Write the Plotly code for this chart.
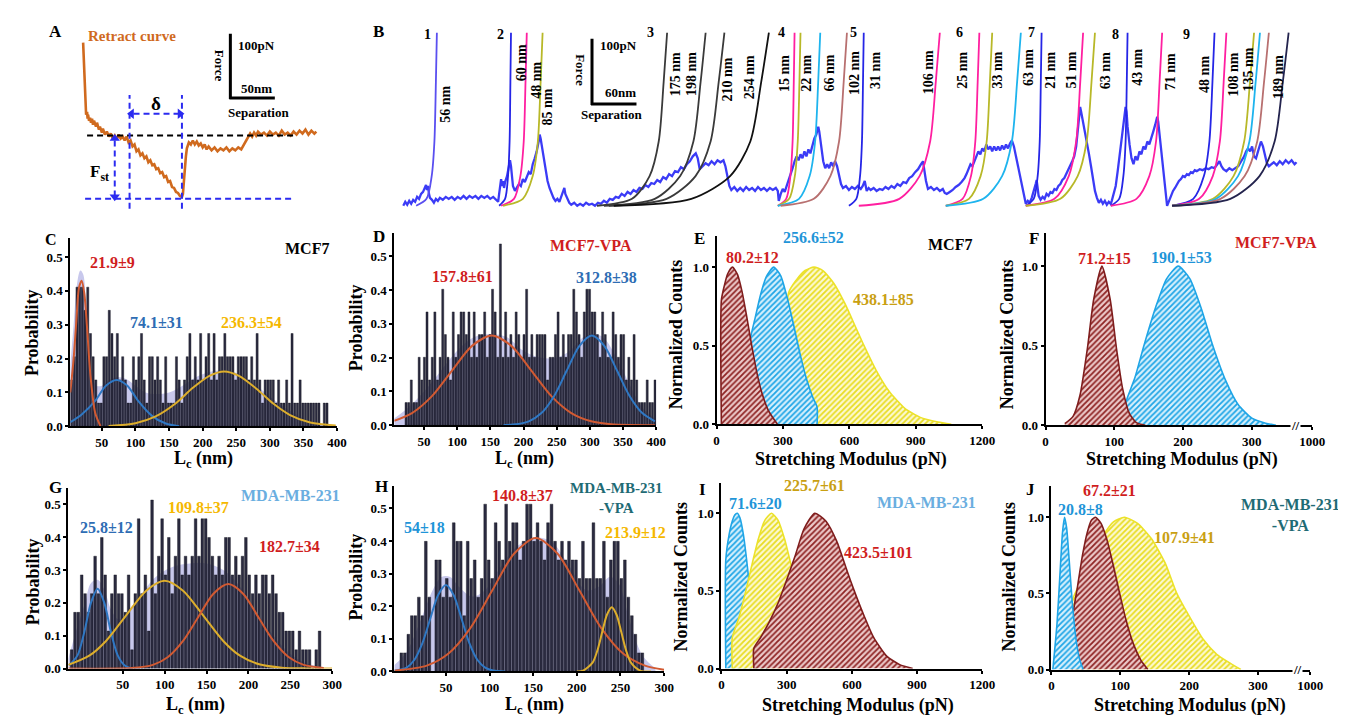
import plotly.graph_objects as go

W, H = 1346, 715
FONT = "Liberation Serif"


def fx(p):
    return p / W


def fy(p):
    return 1 - p / H


# ======================= DATA =======================
# ---- Panel A : retract curve (separation / force in display units; bars = 50 nm, 100 pN)
A_SEP = [73, 73.5, 74, 74.5, 75, 75.5, 76, 77, 77.5, 78,
         79, 80, 81, 82, 83, 84, 86, 87, 89, 90,
         92, 93, 95, 97, 99, 101, 103, 105, 107, 109,
         111, 113, 115, 117, 119, 121, 123, 125, 127, 129,
         131, 133, 135, 137, 139, 141, 143, 145, 147, 149,
         151, 153, 155, 157, 159, 161, 163, 165, 167, 169,
         171, 173, 174, 175, 176, 177, 178, 180, 182, 184,
         186, 188, 190, 192, 194, 196, 198, 200, 203, 206,
         209, 212, 215, 218, 221, 224, 227, 230, 233, 236,
         238, 240, 242, 244, 246, 248, 250, 253, 256, 259,
         262, 265, 268, 271, 274, 277, 280, 283, 286, 289,
         292, 295, 298, 301, 304, 307, 309]
A_FORCE = [165, 150, 140, 125, 112, 100, 92, 95, 88, 92,
           86, 89, 84, 88, 82, 86, 80, 84, 77, 80,
           74, 78, 72, 75, 70, 73, 68, 71, 67, 72,
           68, 70, 66, 70, 64, 66, 60, 62, 55, 57,
           51, 53, 48, 50, 44, 46, 41, 42, 37, 38,
           33, 34, 29, 30, 24, 25, 19, 18, 14, 13,
           10, 9, 12, 25, 40, 50, 58, 64, 62, 66,
           62, 65, 61, 63, 59, 62, 57, 60, 56, 59,
           55, 58, 56, 59, 55, 58, 56, 59, 57, 62,
           66, 70, 73, 70, 74, 71, 75, 72, 74, 71,
           75, 72, 74, 71, 76, 72, 74, 71, 75, 72,
           76, 73, 77, 72, 76, 73, 75]
A_BASELINE = 71
A_MIN_FORCE = 7
A_DELTA = [120, 173]

# ---- Panel B : force traces (display units) and WLC fits
B_SEP = (
    [397, 399, 401, 403, 405, 407, 409, 411, 413, 415, 417, 419, 420, 421, 422, 423, 424, 426, 428, 430, 432, 434,
     437, 440, 443, 446, 449, 452, 455, 458, 461, 464, 467, 470, 473, 476, 479, 482, 485, 488, 491, 493]
    + [494, 495, 496, 497, 498, 499, 500, 502, 503, 504, 505, 506, 507, 508, 510, 512, 514, 516, 518, 520, 522, 524,
       526, 528, 530, 532, 534, 535, 536, 537, 539, 541, 543, 545, 547, 549, 551, 553, 555, 557, 559, 560, 561, 563, 565]
    + [567, 570, 573, 576, 579, 582, 585, 588, 591, 594, 597, 600, 603, 606, 609, 612, 615, 618, 621, 624, 627, 630,
       633, 636, 639, 642, 645, 648, 651, 654, 657, 660, 663, 666, 669, 672, 675, 678, 681, 684, 687, 690, 693, 695,
       697, 700, 703, 706, 709, 712, 715, 718, 721, 723, 725, 727, 729, 732, 735, 738, 741, 744, 747, 750, 753, 756,
       759, 762, 765, 768, 771, 774, 776]
    + [777, 779, 781, 783, 785, 787, 789, 791, 793, 795, 797, 799, 801, 803, 805, 807, 809, 811, 813, 815, 817, 818,
       820, 822, 824, 826, 828, 830, 832, 834, 836, 838, 840, 842, 845, 848, 851, 854, 857, 860]
    + [862, 864, 866, 868, 870, 873, 876, 879, 882, 885, 888, 891, 894, 897, 900, 903, 906, 909, 912, 915, 918, 921,
       923, 924, 926, 928, 931, 934, 937, 940, 943, 945]
    + [947, 950, 953, 956, 959, 962, 965, 967, 969, 971, 973, 975, 977, 979, 981, 983, 985, 987, 989, 991, 993, 995,
       997, 999, 1001, 1003, 1005, 1007, 1009, 1011, 1013, 1015, 1017, 1019, 1021, 1023, 1025]
    + [1027, 1029, 1031, 1033, 1035, 1037, 1038, 1039, 1040, 1042, 1044, 1046, 1048, 1050, 1052, 1054, 1056, 1058,
       1060, 1062, 1064, 1066, 1068, 1070, 1072, 1074, 1076, 1078, 1080, 1081, 1082, 1083, 1085, 1087, 1089, 1091,
       1093, 1095, 1097, 1099, 1101, 1103, 1105, 1107, 1109, 1111, 1113]
    + [1114, 1116, 1118, 1120, 1122, 1124, 1126, 1127, 1128, 1129, 1130, 1132, 1134, 1136, 1138, 1140, 1142, 1144,
       1146, 1148, 1150, 1152, 1154, 1156, 1158, 1160, 1161, 1162, 1164, 1166, 1168]
    + [1170, 1172, 1174, 1176, 1178, 1180, 1182, 1184, 1186, 1188, 1190, 1192, 1194, 1196, 1198, 1200, 1203, 1206,
       1209, 1212, 1215, 1218, 1221, 1223, 1225, 1227, 1230, 1233, 1236, 1239, 1242, 1245, 1248, 1250, 1252, 1254,
       1256, 1258, 1260, 1262, 1264, 1265, 1267, 1269, 1271, 1273, 1275, 1278, 1281, 1284, 1287, 1290, 1293, 1296,
       1299, 1301]
)
B_FORCE = (
    [0, 4, 1, 5, 2, 6, 4, 9, 7, 12, 14, 18, 21, 16, 20, 12, 8, 6, 3, 7, 5, 8,
     6, 9, 7, 9, 6, 9, 7, 10, 7, 10, 8, 10, 7, 10, 8, 10, 7, 9, 6, 4]
    + [12, 22, 27, 20, 25, 18, 24, 30, 36, 42, 46, 40, 30, 20, 15, 18, 22, 20, 27, 24, 30, 34,
       32, 42, 48, 55, 65, 72, 68, 62, 48, 35, 25, 18, 12, 8, 5, 7, 4, 9, 16, 18, 12, 8, 3]
    + [1, 3, 0, 2, 0, 3, 1, 2, 0, 3, 2, 5, 3, 7, 6, 9, 8, 12, 10, 14, 12, 16,
       14, 18, 17, 21, 19, 23, 22, 26, 24, 29, 27, 32, 30, 35, 34, 39, 37, 42, 45, 50, 53, 48,
       37, 40, 43, 41, 45, 42, 46, 44, 46, 40, 30, 20, 16, 19, 15, 18, 15, 19, 16, 18, 15, 19,
       16, 18, 15, 18, 16, 18, 15]
    + [5, 12, 17, 14, 20, 25, 30, 38, 45, 50, 46, 52, 48, 55, 50, 57, 53, 62, 68, 72, 80, 75,
       62, 45, 38, 42, 38, 44, 40, 45, 40, 30, 22, 18, 20, 16, 19, 17, 20, 17]
    + [20, 25, 15, 18, 16, 18, 15, 17, 16, 19, 17, 20, 18, 22, 20, 24, 23, 28, 30, 34, 37, 42,
       45, 38, 25, 17, 19, 16, 18, 15, 17, 13]
    + [12, 14, 16, 19, 21, 24, 28, 32, 37, 42, 40, 46, 50, 55, 52, 58, 55, 62, 57, 60, 55, 60,
       56, 60, 56, 61, 57, 62, 58, 63, 66, 60, 50, 40, 30, 22, 12]
    + [2, 5, 3, 8, 14, 22, 26, 18, 10, 6, 9, 7, 12, 10, 14, 13, 17, 16,
       20, 22, 26, 28, 32, 36, 40, 45, 50, 60, 80, 95, 100, 95, 85, 72, 62, 52,
       40, 28, 15, 8, 3, 6, 2, 5, 1, 4, 2]
    + [5, 12, 20, 35, 50, 65, 80, 92, 100, 95, 80, 62, 48, 42, 50, 46, 55, 52,
       60, 57, 65, 62, 70, 75, 82, 90, 85, 75, 55, 35, 15]
    + [0, 5, 10, 15, 18, 22, 25, 27, 30, 29, 32, 31, 34, 33, 36, 35, 37, 36,
       38, 37, 39, 38, 42, 45, 40, 37, 35, 38, 36, 38, 40, 45, 50, 55, 58, 55,
       60, 50, 48, 55, 62, 65, 60, 52, 43, 40, 42, 44, 41, 45, 42, 46, 43, 46,
       42, 44]
)
# WLC fits: separation reached at each force level
WLC_FORCE = [0, 7, 30, 65, 125, 175]
WLC_SEP = [
    [410, 420.5, 425.75, 428.5, 430, 431],
    [494, 500, 503, 504.6, 505.4, 506],
    [496, 509, 515.5, 518.9, 520.7, 522],
    [498, 518, 528, 533.2, 536, 538],
    [593, 628.5, 646.25, 655.5, 660.5, 664],
    [600, 651.5, 677.25, 690.6, 697.9, 703],
    [605, 663.5, 692.75, 708, 716.2, 722],
    [610, 688.5, 727.75, 748.2, 759.2, 767],
    [776, 784.5, 788.75, 791, 792.2, 793],
    [776, 787.5, 793.25, 796.2, 797.9, 799],
    [776, 797.5, 808.25, 813.8, 816.9, 819],
    [779, 812.5, 829.25, 838, 842.7, 846],
    [848, 855.5, 859.25, 861.2, 862.25, 863],
    [858, 899, 919.5, 930.2, 935.9, 940],
    [946, 963, 971.5, 975.9, 978.3, 980],
    [946, 969.5, 981.25, 987.4, 990.65, 993],
    [946, 984, 1003, 1012.9, 1018.2, 1022],
    [1027, 1035, 1039, 1041.1, 1042.2, 1043],
    [1027, 1056, 1070.5, 1078, 1082.1, 1085],
    [1027, 1062, 1079.5, 1088.6, 1093.5, 1097],
    [1113, 1121.5, 1125.75, 1128, 1129.2, 1130],
    [1113, 1139, 1152, 1158.8, 1162.4, 1165],
    [1175, 1196.5, 1207.25, 1212.8, 1215.9, 1218],
    [1175, 1202.5, 1216.25, 1223.4, 1227.25, 1230],
    [1175, 1216.5, 1237.25, 1248, 1253.9, 1258],
    [1175, 1219.5, 1241.75, 1253.3, 1259.6, 1264],
    [1175, 1224, 1248.5, 1261.2, 1268.1, 1273],
    [1175, 1234, 1263.5, 1278.8, 1287.1, 1293],
]
WLC_KIND = ["v", "b", "m", "o", "k1", "k1", "k1", "k2", "m", "o", "c", "r", "b", "m", "m", "o", "c",
            "b", "m", "o", "b", "m", "b", "m", "o", "c", "r", "n"]
B_SEGMENTS = ["1", "2", "3", "4", "5", "6", "7", "8", "9"]
B_LC_TEXT = ["56 nm", "60 nm", "48 nm", "85 nm", "175 nm", "198 nm", "210 nm", "254 nm",
             "15 nm", "22 nm", "66 nm", "102 nm", "31 nm", "106 nm", "25 nm", "33 nm", "63 nm",
             "21 nm", "51 nm", "63 nm", "43 nm", "71 nm", "48 nm", "108 nm", "135 nm", "189 nm"]

# ---- Histograms (counts per bin, probability = count * unit)
C_BIN_START, C_BIN_WIDTH, C_UNIT = 3, 4, 0.0685
C_COUNTS = [2, 3, 6, 6, 6, 5, 6, 4, 3, 2, 1, 1, 3, 3, 5, 4, 3, 4, 2, 3, 2, 1, 1, 3, 2, 3, 4, 2,
            1, 3, 3, 2, 3, 2, 1, 3, 1, 1, 1, 3, 2, 1, 2, 3, 4, 2, 3, 2, 4, 2, 3, 4, 2, 4, 2, 3,
            3, 4, 3, 3, 3, 2, 3, 3, 3, 3, 2, 3, 2, 4, 2, 1, 2, 2, 2, 2, 1, 2, 1, 1, 2, 1, 4, 1,
            1, 2, 1, 1, 1, 1, 1, 1, 1, 0, 1, 1]
D_BIN_START, D_BIN_WIDTH, D_UNIT = 21, 3.95, 0.067
D_COUNTS = [1, 1, 2, 1, 1, 3, 2, 3, 5, 2, 3, 5, 2, 3, 6, 4, 3, 2, 5, 3,
            4, 5, 5, 4, 5, 3, 5, 3, 4, 4, 5, 3, 4, 6, 5, 3, 8, 3, 5, 3,
            4, 3, 5, 4, 3, 4, 6, 3, 4, 3, 4, 4, 4, 4, 2, 3, 3, 4, 5, 3,
            4, 3, 4, 4, 6, 5, 4, 3, 5, 6, 6, 5, 5, 4, 3, 5, 4, 3, 3, 5,
            4, 3, 4, 4, 2, 3, 2, 4, 2, 1, 1, 1, 2, 1, 1, 2]
G_BIN_START, G_BIN_WIDTH, G_UNIT = -13, 4, 0.057
G_COUNTS = [1, 3, 3, 5, 4, 3, 4, 6, 4, 7, 5, 2, 4, 5, 4, 4, 3, 5, 1, 4,
            8, 4, 5, 2, 9, 4, 6, 8, 5, 7, 4, 6, 8, 5, 6, 5, 6, 8, 6, 8,
            8, 7, 6, 5, 6, 5, 7, 7, 5, 6, 5, 6, 7, 5, 4, 5, 4, 5, 5, 4,
            5, 4, 3, 3, 2, 2, 2, 1, 2, 1, 1, 1, 0, 1, 2]
H_BIN_START, H_BIN_WIDTH, H_UNIT = -3, 4, 0.057
H_COUNTS = [1, 1, 2, 3, 3, 4, 3, 7, 4, 0, 6, 6, 4, 5, 4, 8, 7, 7, 3, 7,
            5, 6, 4, 5, 9, 6, 5, 8, 7, 6, 9, 7, 8, 8, 6, 7, 9, 9, 7, 8,
            7, 6, 8, 9, 7, 6, 7, 6, 7, 6, 6, 5, 7, 5, 5, 8, 5, 5, 7, 4,
            6, 7, 7, 5, 6, 4, 3, 2, 1, 1]

# Gaussian fit curves and cumulative envelopes
C_ENV_X = [3, 8, 13, 18, 22, 26, 30, 36, 42, 50, 60, 72, 85, 100, 115, 130, 150, 170, 190, 210, 232, 254, 280, 305, 330, 360, 398]
C_ENV_Y = [0.18, 0.3, 0.42, 0.46, 0.45, 0.38, 0.26, 0.15, 0.12, 0.12, 0.135, 0.145, 0.14, 0.12, 0.1, 0.095, 0.1, 0.12,
           0.145, 0.16, 0.165, 0.155, 0.12, 0.08, 0.045, 0.015, 0.003]
C_FIT1_X = [3, 8, 12, 16, 20, 24, 28, 33, 40, 48]
C_FIT1_Y = [0.10, 0.2, 0.31, 0.41, 0.43, 0.39, 0.29, 0.15, 0.04, 0.0]
C_FIT2_X = [3, 20, 40, 56, 72, 88, 104, 125, 145, 165]
C_FIT2_Y = [0.012, 0.035, 0.075, 0.12, 0.137, 0.12, 0.075, 0.03, 0.008, 0.0]
C_FIT3_X = [60, 100, 130, 160, 185, 210, 232, 254, 280, 305, 330, 360, 398]
C_FIT3_Y = [0.001, 0.009, 0.029, 0.068, 0.113, 0.149, 0.162, 0.149, 0.111, 0.067, 0.033, 0.011, 0.002]

D_ENV_X = [5, 25, 50, 75, 100, 125, 150, 175, 200, 225, 250, 270, 290, 305, 320, 340, 360, 380, 398]
D_ENV_Y = [0.02, 0.05, 0.1, 0.16, 0.22, 0.26, 0.27, 0.26, 0.22, 0.2, 0.2, 0.22, 0.26, 0.27, 0.26, 0.2, 0.12, 0.05, 0.02]
D_FIT1_X = [5, 32, 62, 92, 122, 152, 182, 212, 242, 272, 302, 332, 362, 398]
D_FIT1_Y = [0.013, 0.036, 0.086, 0.161, 0.234, 0.265, 0.234, 0.161, 0.086, 0.036, 0.0117, 0.003, 0.0006, 0.0]
D_FIT2_X = [170, 189, 208, 227, 246, 265, 284, 303, 322, 341, 360, 379, 398]
D_FIT2_Y = [0.0006, 0.003, 0.0117, 0.036, 0.086, 0.161, 0.234, 0.265, 0.234, 0.161, 0.086, 0.036, 0.0117]

G_ENV_X = [-15, -5, 5, 12, 20, 28, 36, 45, 55, 70, 90, 110, 130, 150, 170, 190, 210, 230, 250, 270, 290]
G_ENV_Y = [0.03, 0.12, 0.2, 0.26, 0.27, 0.24, 0.18, 0.15, 0.17, 0.22, 0.28, 0.31, 0.32, 0.32, 0.3, 0.25, 0.17, 0.1,
           0.045, 0.015, 0.003]
G_FIT1_X = [-14, -4, 4, 12, 20, 28, 36, 44, 52, 60]
G_FIT1_Y = [0.01, 0.04, 0.11, 0.2, 0.243, 0.2, 0.11, 0.04, 0.01, 0.0]
G_FIT2_X = [-15, 10, 30, 55, 78, 100, 122, 145, 170, 190, 214, 240, 270, 300]
G_FIT2_Y = [0.011, 0.039, 0.084, 0.165, 0.237, 0.267, 0.237, 0.165, 0.084, 0.039, 0.012, 0.0027, 0.0003, 0.0]
G_FIT3_X = [-15, 60, 86, 104, 122, 140, 158, 176, 194, 212, 230, 248, 266, 290]
G_FIT3_Y = [0.0, 0.0015, 0.011, 0.035, 0.084, 0.156, 0.227, 0.257, 0.227, 0.156, 0.084, 0.035, 0.011, 0.0017]

H_ENV_X = [-9, 5, 20, 35, 45, 55, 65, 80, 95, 110, 130, 150, 170, 190, 210, 225, 238, 248, 260, 275, 290]
H_ENV_Y = [0.02, 0.06, 0.15, 0.25, 0.29, 0.29, 0.26, 0.23, 0.25, 0.31, 0.38, 0.41, 0.4, 0.33, 0.25, 0.26, 0.29, 0.27,
           0.16, 0.05, 0.01]
H_FIT1_X = [-9, 5, 14, 23, 32, 41, 50, 59, 68, 77, 86, 95, 104, 118]
H_FIT1_Y = [0.002, 0.012, 0.036, 0.086, 0.161, 0.234, 0.265, 0.234, 0.161, 0.086, 0.036, 0.012, 0.003, 0.0]
H_FIT2_X = [-9, 28, 53, 78, 103, 128, 153, 178, 203, 228, 253, 278, 300]
H_FIT2_Y = [0.0026, 0.018, 0.055, 0.133, 0.248, 0.361, 0.409, 0.361, 0.248, 0.133, 0.055, 0.018, 0.0054]
H_FIT3_X = [200, 207, 218, 223.5, 229, 234.5, 240, 245.5, 251, 256.5, 262, 273, 285]
H_FIT3_Y = [0.0003, 0.0022, 0.027, 0.064, 0.12, 0.174, 0.197, 0.174, 0.12, 0.064, 0.027, 0.002, 0.0]

# ---- Stretching-modulus distributions (normalized counts)
E_RED_X = [22, 22, 35, 50, 72, 95, 115, 135, 159, 185, 210, 235, 275]
E_RED_Y = [0, 0.79, 0.88, 0.956, 1.0, 0.952, 0.845, 0.696, 0.5, 0.31, 0.176, 0.085, 0.0]
E_BLUE_X = [150, 150, 175, 200, 225, 258, 290, 320, 350, 380, 410, 435, 454, 454]
E_BLUE_Y = [0, 0.52, 0.68, 0.83, 0.94, 1.0, 0.944, 0.8, 0.62, 0.43, 0.27, 0.17, 0.11, 0.0]
E_YEL_X = [325, 325, 360, 400, 440, 480, 530, 580, 630, 666, 720, 780, 850, 920, 1000, 1060]
E_YEL_Y = [0, 0.835, 0.917, 0.978, 1.0, 0.978, 0.896, 0.767, 0.612, 0.5, 0.345, 0.208, 0.102, 0.044, 0.014, 0.0]

F_RED_X = [28, 40, 50, 61, 70, 82, 94, 103, 112, 122, 132, 145]
F_RED_Y = [0.01, 0.056, 0.187, 0.487, 0.79, 1.0, 0.79, 0.487, 0.232, 0.073, 0.017, 0.0]
F_BLUE_X = [115, 115, 130, 143, 160, 176, 193, 210, 226, 244, 262, 280, 300, 320, 335]
F_BLUE_Y = [0, 0.12, 0.3, 0.5, 0.74, 0.92, 1.0, 0.92, 0.74, 0.49, 0.28, 0.13, 0.045, 0.013, 0.0]

I_BLUE_X = [20, 20, 35, 50, 62, 73, 85, 100, 115, 129, 145, 165, 190, 210]
I_BLUE_Y = [0, 0.7, 0.86, 0.95, 0.99, 1.0, 0.97, 0.87, 0.71, 0.53, 0.35, 0.18, 0.06, 0.0]
I_YEL_X = [50, 50, 80, 110, 140, 170, 200, 230, 260, 290, 320, 350, 380, 420, 470, 520]
I_YEL_Y = [0, 0.2, 0.325, 0.487, 0.667, 0.835, 0.956, 1.0, 0.956, 0.835, 0.667, 0.487, 0.325, 0.164, 0.056, 0.0]
I_RED_X = [149, 149, 180, 220, 260, 300, 340, 380, 429, 480, 530, 580, 611, 650, 700, 760, 820, 880]
I_RED_Y = [0, 0.13, 0.2, 0.3, 0.42, 0.57, 0.73, 0.9, 1.0, 0.95, 0.82, 0.62, 0.5, 0.36, 0.2, 0.08, 0.025, 0.0]

J_BLUE_X = [2, 8, 12, 16, 19, 22, 26, 30, 35, 40, 46]
J_BLUE_Y = [0.0, 0.3, 0.6, 0.9, 1.0, 0.93, 0.7, 0.45, 0.22, 0.08, 0.0]
J_RED_X = [30, 30, 38, 45, 52, 58, 64, 72, 80, 90, 99, 108, 118, 130, 140]
J_RED_Y = [0, 0.32, 0.55, 0.75, 0.9, 0.98, 1.0, 0.96, 0.86, 0.68, 0.5, 0.33, 0.18, 0.06, 0.0]
J_YEL_X = [30, 30, 45, 60, 75, 90, 106, 125, 145, 165, 182, 200, 220, 240, 260, 275]
J_YEL_Y = [0, 0.45, 0.6, 0.75, 0.88, 0.97, 1.0, 0.96, 0.86, 0.7, 0.5, 0.35, 0.2, 0.1, 0.04, 0.0]

# Tick labels
TICKS_LC400 = [50, 100, 150, 200, 250, 300, 350, 400]
TICKS_LC300 = [50, 100, 150, 200, 250, 300]
TICKS_SM1200 = [0, 300, 600, 900, 1200]
TICKS_PROB = [0.0, 0.1, 0.2, 0.3, 0.4, 0.5]
TICKS_NORM = [0.0, 0.5, 1.0]
TICKTEXT_BROKEN = ["0", "100", "200", "300", "1000"]

# ======================= STYLE =======================
WLC_COLORS = {"v": "#5a4ff0", "b": "#2525e6", "m": "#ff1fa0", "o": "#b8b828", "k1": "#3a3a3a",
              "k2": "#111111", "c": "#1eb4ee", "r": "#b87070", "n": "#24244e"}
TRACE_BLUE = "rgba(25,25,245,0.85)"
ORANGE = "#d06a1e"
DASH_BLUE = "#2b2bf0"
BAR_FILL, BAR_EDGE = "#2b2b40", "#0e0e18"
ENV_FILL = "rgba(200,200,236,1)"
FIT_RED, FIT_BLUE, FIT_YEL = "#d25a32", "#2f78c4", "#ddae2c"
RED_D = dict(edge="#7f1d1d", fg="#8e2424", bg="#ecc9c9")
BLUE_D = dict(edge="#1fa5e6", fg="#1fa5e6", bg="#d6f0fc")
YEL_D = dict(edge="#ece22a", fg="#e8dc20", bg="#fcf9d2")

fig = go.Figure()
layout = {}
annotations = []
shapes = []


def ann(text, x, y, size=16, color="black", angle=0):
    annotations.append(dict(text="<b>%s</b>" % text, x=fx(x), y=fy(y), xref="paper", yref="paper",
                            showarrow=False, textangle=angle, xanchor="center", yanchor="middle",
                            font=dict(family=FONT, size=size, color=color)))


def axes(n, xd, yd, xr, yr, xt, yt, xtt=None, overlay=False):
    tf = dict(family=FONT, size=13, color="black", weight="bold")
    common = dict(showline=True, linecolor="black", linewidth=2, ticks="outside", ticklen=3,
                  tickwidth=1.5, tickcolor="black", showgrid=False, zeroline=False, tickfont=tf,
                  fixedrange=True)
    layout["xaxis%d" % n] = dict(domain=[fx(xd[0]), fx(xd[1])], range=xr, anchor="y%d" % n,
                                 tickvals=xt, ticktext=xtt if xtt else [str(v) for v in xt], **common)
    layout["yaxis%d" % n] = dict(domain=[fy(yd[1]), fy(yd[0])], range=yr, anchor="x%d" % n,
                                 tickvals=yt, ticktext=["%.1f" % v for v in yt], **common)
    if overlay:
        # second y-axis drawn over the first so bars sit above the shaded envelope
        layout["yaxis%d" % (n + 10)] = dict(overlaying="y%d" % n, range=yr, anchor="x%d" % n,
                                            visible=False, fixedrange=True)


# ---------- top row overlay axis (panels A and B)
layout["xaxis"] = dict(domain=[0, 1], range=[0, W], visible=False, fixedrange=True)
layout["yaxis"] = dict(domain=[fy(210), 1], range=[-10, 200], visible=False, fixedrange=True)

# Panel A
fig.add_trace(go.Scatter(x=A_SEP, y=A_FORCE, mode="lines", line=dict(color=ORANGE, width=2.6),
                         xaxis="x", yaxis="y", hoverinfo="skip"))
dash = "6px,4px"
shapes += [
    dict(type="line", xref="x", yref="y", x0=77, x1=287, y0=A_BASELINE, y1=A_BASELINE,
         line=dict(color="black", width=2, dash=dash)),
    dict(type="line", xref="x", yref="y", x0=75, x1=285, y0=A_MIN_FORCE, y1=A_MIN_FORCE,
         line=dict(color=DASH_BLUE, width=2, dash=dash)),
    dict(type="line", xref="x", yref="y", x0=A_DELTA[0], x1=A_DELTA[0], y0=-3, y1=112,
         line=dict(color=DASH_BLUE, width=2, dash=dash)),
    dict(type="line", xref="x", yref="y", x0=A_DELTA[1], x1=A_DELTA[1], y0=-3, y1=112,
         line=dict(color=DASH_BLUE, width=2, dash=dash)),
    dict(type="line", xref="x", yref="y", x0=A_DELTA[0] + 4, x1=A_DELTA[1] - 4, y0=93, y1=93,
         line=dict(color=DASH_BLUE, width=2, dash=dash)),
    dict(type="line", xref="x", yref="y", x0=105, x1=105, y0=A_BASELINE - 5, y1=A_MIN_FORCE + 4,
         line=dict(color=DASH_BLUE, width=2, dash=dash)),
    # scale bars
    dict(type="line", xref="x", yref="y", x0=222, x1=222, y0=174, y1=108, line=dict(color="black", width=3)),
    dict(type="line", xref="x", yref="y", x0=221, x1=267, y0=109, y1=109, line=dict(color="black", width=3)),
    dict(type="line", xref="x", yref="y", x0=588, x1=588, y0=169, y1=102, line=dict(color="black", width=3)),
    dict(type="line", xref="x", yref="y", x0=587, x1=633, y0=103, y1=103, line=dict(color="black", width=3)),
]
fig.add_trace(go.Scatter(x=[A_DELTA[0] + 2, A_DELTA[1] - 2, 105, 105],
                         y=[93, 93, A_BASELINE - 3, A_MIN_FORCE + 2], mode="markers",
                         marker=dict(symbol=["triangle-left", "triangle-right", "triangle-up", "triangle-down"],
                                     size=9, color=DASH_BLUE),
                         xaxis="x", yaxis="y", hoverinfo="skip"))

# Panel B
fig.add_trace(go.Scatter(x=B_SEP, y=B_FORCE, mode="lines", line=dict(color=TRACE_BLUE, width=2.3),
                         xaxis="x", yaxis="y", hoverinfo="skip"))
for seps, kind in zip(WLC_SEP, WLC_KIND):
    fig.add_trace(go.Scatter(x=seps, y=WLC_FORCE, mode="lines",
                             line=dict(color=WLC_COLORS[kind], width=1.8, shape="spline", smoothing=0.8),
                             xaxis="x", yaxis="y", hoverinfo="skip"))


# ---------- histogram panels
def hist_panel(n, start, width, counts, unit, env, fits):
    xa, ya, yo = "x%d" % n, "y%d" % n, "y%d" % (n + 10)
    fig.add_trace(go.Scatter(x=env[0], y=env[1], mode="lines", fill="tozeroy", fillcolor=ENV_FILL,
                             line=dict(width=0, shape="spline"), xaxis=xa, yaxis=ya, hoverinfo="skip"))
    centers = [start + width * (i + 0.5) for i in range(len(counts))]
    fig.add_trace(go.Bar(x=centers, y=[c * unit for c in counts], width=width * 0.78,
                         marker=dict(color=BAR_FILL, line=dict(color=BAR_EDGE, width=0.4)),
                         xaxis=xa, yaxis=yo, hoverinfo="skip"))
    for fxs, fys, col in fits:
        fig.add_trace(go.Scatter(x=fxs, y=fys, mode="lines", line=dict(color=col, width=2, shape="spline",
                                                                         smoothing=0.8),
                                 xaxis=xa, yaxis=yo, hoverinfo="skip"))


def dist_panel(n, curves):
    xa, ya = "x%d" % n, "y%d" % n
    for xs, ys, st in curves:
        fig.add_trace(go.Scatter(x=xs, y=ys, mode="lines", fill="tozeroy", fillcolor=st["bg"],
                                 fillpattern=dict(shape="/", fgcolor=st["fg"], bgcolor=st["bg"], size=4,
                                                  solidity=0.45, fillmode="replace"),
                                 line=dict(color=st["edge"], width=1.6, shape="spline", smoothing=0.6),
                                 xaxis=xa, yaxis=ya, hoverinfo="skip"))


axes(2, (60, 330), (233, 423), [3, 400], [0, 0.555], TICKS_LC400, TICKS_PROB, overlay=True)
hist_panel(2, C_BIN_START, C_BIN_WIDTH, C_COUNTS, C_UNIT, (C_ENV_X, C_ENV_Y),
           [(C_FIT2_X, C_FIT2_Y, FIT_BLUE), (C_FIT3_X, C_FIT3_Y, FIT_YEL), (C_FIT1_X, C_FIT1_Y, FIT_RED)])

axes(3, (388, 653), (228, 422), [5.4, 400], [0, 0.567], TICKS_LC400, TICKS_PROB, overlay=True)
hist_panel(3, D_BIN_START, D_BIN_WIDTH, D_COUNTS, D_UNIT, (D_ENV_X, D_ENV_Y),
           [(D_FIT1_X, D_FIT1_Y, FIT_RED), (D_FIT2_X, D_FIT2_Y, FIT_BLUE)])

axes(4, (714, 983), (231, 421), [0, 1200], [0, 1.195], TICKS_SM1200, TICKS_NORM)
dist_panel(4, [(E_YEL_X, E_YEL_Y, YEL_D), (E_BLUE_X, E_BLUE_Y, BLUE_D), (E_RED_X, E_RED_Y, RED_D)])

axes(5, (1047, 1317), (228, 422), [0, 388], [0, 1.205], [0, 100, 200, 300, 388], TICKS_NORM, TICKTEXT_BROKEN)
dist_panel(5, [(F_BLUE_X, F_BLUE_Y, BLUE_D), (F_RED_X, F_RED_Y, RED_D)])

axes(6, (58, 325), (485, 668), [-15, 300], [0, 0.551], TICKS_LC300, TICKS_PROB, overlay=True)
hist_panel(6, G_BIN_START, G_BIN_WIDTH, G_COUNTS, G_UNIT, (G_ENV_X, G_ENV_Y),
           [(G_FIT1_X, G_FIT1_Y, FIT_BLUE), (G_FIT2_X, G_FIT2_Y, FIT_YEL), (G_FIT3_X, G_FIT3_Y, FIT_RED)])

axes(7, (388, 661), (483, 671), [-9, 300], [0, 0.57], TICKS_LC300, TICKS_PROB, overlay=True)
hist_panel(7, H_BIN_START, H_BIN_WIDTH, H_COUNTS, H_UNIT, (H_ENV_X, H_ENV_Y),
           [(H_FIT1_X, H_FIT1_Y, FIT_BLUE), (H_FIT2_X, H_FIT2_Y, FIT_RED), (H_FIT3_X, H_FIT3_Y, FIT_YEL)])

axes(8, (719, 983), (480, 668), [0, 1200], [0, 1.197], TICKS_SM1200, TICKS_NORM)
dist_panel(8, [(I_BLUE_X, I_BLUE_Y, BLUE_D), (I_YEL_X, I_YEL_Y, YEL_D), (I_RED_X, I_RED_Y, RED_D)])

axes(9, (1053, 1315), (483, 669), [0, 376], [0, 1.208], [0, 100, 200, 300, 376], TICKS_NORM, TICKTEXT_BROKEN)
dist_panel(9, [(J_YEL_X, J_YEL_Y, YEL_D), (J_RED_X, J_RED_Y, RED_D), (J_BLUE_X, J_BLUE_Y, BLUE_D)])

# axis breaks
for xa, ya, xb in (("x5", "y5", 364), ("x9", "y9", 357)):
    annotations.append(dict(text="<b>//</b>", x=xb, y=0, xref=xa, yref=ya, showarrow=False,
                            bgcolor="white", borderpad=0,
                            font=dict(family=FONT, size=13, color="black")))

# ======================= TEXT =======================
# Panel A
ann("A", 45, 24, 17)
ann("Retract curve", 122, 28, 15, ORANGE)
ann("100pN", 248, 38, 13)
ann("Force", 211, 59, 13, angle=90)
ann("50nm", 248, 81, 13)
ann("Separation", 250, 106, 13)
ann("δ", 147, 97, 19)
ann("F<sub>st</sub>", 90, 167, 17)
# Panel B
ann("B", 372, 24, 17)
ann("100pN", 615, 38, 13)
ann("Force", 577, 63, 13, angle=90)
ann("60nm", 617, 85, 13)
ann("Separation", 608, 108, 13)
B_NUM_POS = [(422, 27), (495, 27), (647, 25), (780, 25), (853, 25), (960, 25), (1033, 25), (1118, 27), (1190, 27)]
for t, (x, y) in zip(B_SEGMENTS, B_NUM_POS):
    ann(t, x, y, 14)
B_LC_POS = [(440, 97), (517, 55), (532, 73), (543, 100), (672, 67), (688, 67), (725, 72), (747, 70),
            (783, 66), (805, 66), (828, 66), (853, 66), (875, 63), (928, 65), (963, 63), (998, 63), (1030, 60),
            (1052, 63), (1073, 63), (1107, 63), (1140, 60), (1173, 65), (1208, 67), (1237, 67), (1252, 62),
            (1282, 70)]
for t, (x, y) in zip(B_LC_TEXT, B_LC_POS):
    ann(t, x, y, 14, angle=-90)

RED_T, BLUE_T, YEL_T, GOLD_T = "#d01e1e", "#2e6db4", "#f5b800", "#c9a012"
SKY_T, TEAL_T, LBLUE_T = "#1f95d8", "#1f6b75", "#6aaee0"
XT_TOP, XT_BOT = 457, 705
# C
ann("C", 40, 234, 16)
ann("21.9±9", 103, 257, 16, RED_T)
ann("MCF7", 300, 243, 16)
ann("74.1±31", 147, 318, 16, BLUE_T)
ann("236.3±54", 243, 318, 16, YEL_T)
ann("Probability", 22, 328, 18, angle=-90)
ann("L<sub>c</sub> (nm)", 195, XT_TOP, 18)
# D
ann("D", 372, 231, 17)
ann("MCF7-VPA", 587, 240, 16, RED_T)
ann("157.8±61", 457, 272, 16, RED_T)
ann("312.8±38", 603, 273, 16, BLUE_T)
ann("Probability", 350, 323, 18, angle=-90)
ann("L<sub>c</sub> (nm)", 520, XT_TOP, 18)
# E
ann("E", 697, 233, 17)
ann("80.2±12", 750, 252, 16, RED_T)
ann("256.6±52", 812, 232, 16, SKY_T)
ann("MCF7", 950, 239, 16)
ann("438.1±85", 883, 295, 16, GOLD_T)
ann("Normalized Counts", 673, 330, 18, angle=-90)
ann("Stretching Modulus (pN)", 850, XT_TOP, 18)
# F
ann("F", 1035, 233, 17)
ann("71.2±15", 1107, 253, 16, RED_T)
ann("190.1±53", 1185, 252, 16, SKY_T)
ann("MCF7-VPA", 1280, 237, 16, RED_T)
ann("Normalized Counts", 1008, 330, 18, angle=-90)
ann("Stretching Modulus (pN)", 1185, XT_TOP, 18)
# G
ann("G", 45, 485, 17)
ann("MDA-MB-231", 283, 493, 16, LBLUE_T)
ann("109.8±37", 190, 505, 16, YEL_T)
ann("25.8±12", 97, 525, 16, BLUE_T)
ann("182.7±34", 282, 545, 16, RED_T)
ann("Probability", 22, 580, 18, angle=-90)
ann("L<sub>c</sub> (nm)", 187, XT_BOT, 18)
# H
ann("H", 375, 484, 17)
ann("140.8±37", 518, 493, 16, RED_T)
ann("MDA-MB-231<br>-VPA", 612, 496, 15, TEAL_T)
ann("54±18", 418, 525, 16, SKY_T)
ann("213.9±12", 632, 530, 16, YEL_T)
ann("Probability", 349, 575, 18, angle=-90)
ann("L<sub>c</sub> (nm)", 530, XT_BOT, 18)
# I
ann("I", 700, 487, 17)
ann("225.7±61", 813, 483, 16, GOLD_T)
ann("71.6±20", 753, 501, 16, SKY_T)
ann("MDA-MB-231", 927, 500, 16, LBLUE_T)
ann("423.5±101", 878, 551, 16, RED_T)
ann("Normalized Counts", 678, 575, 18, angle=-90)
ann("Stretching Modulus (pN)", 857, XT_BOT, 18)
# J
ann("J", 1032, 487, 17)
ann("67.2±21", 1112, 488, 16, RED_T)
ann("20.8±8", 1082, 507, 16, SKY_T)
ann("MDA-MB-231<br>-VPA", 1295, 513, 16, TEAL_T)
ann("107.9±41", 1188, 535, 16, GOLD_T)
ann("Normalized Counts", 1010, 575, 18, angle=-90)
ann("Stretching Modulus (pN)", 1193, XT_BOT, 18)

fig.update_layout(width=W, height=H, margin=dict(l=0, r=0, t=0, b=0), paper_bgcolor="white",
                  plot_bgcolor="white", showlegend=False, annotations=annotations, shapes=shapes,
                  font=dict(family=FONT), **layout)
fig.write_html("out.html")
